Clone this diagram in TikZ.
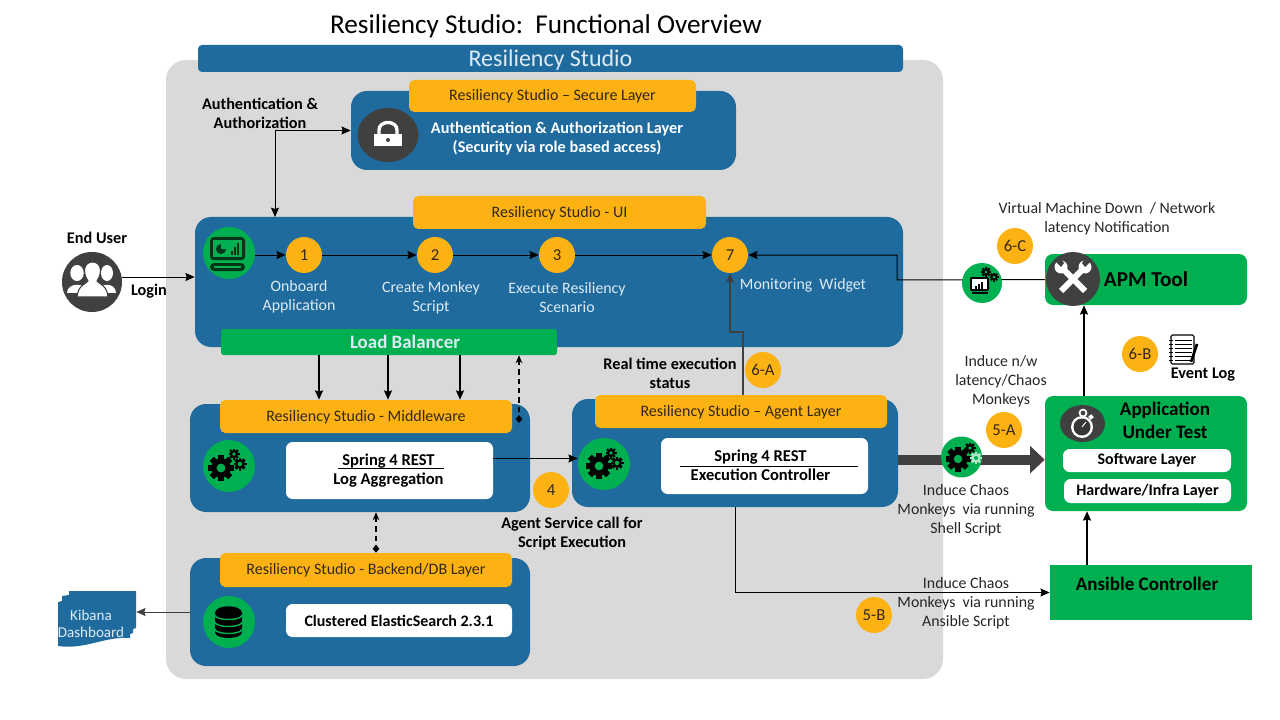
\documentclass[tikz,border=0pt]{standalone}
\usepackage{fontspec}
\setmainfont{Carlito}
\usetikzlibrary{arrows,arrows.meta,shapes.geometric}
\definecolor{panelgray}{HTML}{D9D9D9}
\definecolor{layerblue}{HTML}{1F6B9E}
\definecolor{tagorange}{HTML}{FDB213}
\definecolor{iconcircle}{HTML}{404040}
\definecolor{boxgreen}{HTML}{00AF50}
\definecolor{tagtext}{HTML}{33281A}
\definecolor{notetext}{HTML}{262626}
\definecolor{paletext}{HTML}{DDEAF3}
\tikzset{
  size/.style 2 args={minimum width=#1*0.75pt,minimum height=#2*0.75pt,inner sep=0pt},
  layer box/.style={fill=layerblue,rounded corners=12pt},
  tag box/.style={fill=tagorange,rounded corners=4pt,text=tagtext,text depth=1pt,font=\fontsize{12}{14}\selectfont},
  white box/.style={fill=white,rounded corners=5pt,align=center,font=\fontsize{12}{14.25}\selectfont\bfseries},
  green box/.style={fill=boxgreen,rounded corners=6pt},
  badge/.style={circle,fill=tagorange,minimum size=27pt,inner sep=0pt,text=tagtext,font=\fontsize{12.5}{14}\selectfont},
  icon disc/.style={circle,fill=boxgreen,minimum size=#1*0.75pt,inner sep=0pt},
  dark disc/.style={circle,fill=iconcircle,minimum size=#1*0.75pt,inner sep=0pt},
  note/.style={align=center,inner sep=0pt,text=notetext,font=\fontsize{11.9}{14.25}\selectfont},
  bold note/.style={align=center,inner sep=0pt,text=black,font=\fontsize{12.2}{14.25}\selectfont\bfseries},
  pale note/.style={align=center,inner sep=0pt,text=paletext,font=\fontsize{11.9}{14.25}\selectfont},
  flow/.style={-{Stealth[length=7pt,width=6pt,inset=1pt]},black,line width=0.75pt},
  heavy flow/.style={-{Stealth[length=7pt,width=6pt,inset=1pt]},black,line width=1.3pt},
  dash flow/.style={{Stealth[length=6pt,width=5pt]}-{Diamond[length=6pt,width=5pt]},black,line width=1.2pt,dash pattern=on 4pt off 3pt},
  big flow/.style={-{Triangle[length=11pt,width=20pt]},iconcircle,line width=7.5pt},
}
\newcommand{\cogicon}[5]{%
  \foreach \a in {0,45,90,135}
    \fill[#4,shift={(#1,#2)},rotate=\a] (-0.22*#3,-1.0*#3) rectangle (0.22*#3,1.0*#3);
  \fill[#4] (#1,#2) circle[radius=0.75*#3];
  \fill[#5] (#1,#2) circle[radius=0.34*#3];
}
\begin{document}
\begin{tikzpicture}[x=0.75pt,y=-0.75pt]
  \useasboundingbox (0,0) rectangle (1280,720);

  \node[font=\fontsize{20.4}{24}\selectfont] (title) at (546,26) {Resiliency Studio:\ \ Functional Overview};
  \node[fill=panelgray,rounded corners=15pt,size={777}{619}] (panel) at (554.5,369.5) {};
  \node[fill=layerblue,rounded corners=3pt,size={705}{27},text=paletext,text depth=0pt,font=\fontsize{18}{20}\selectfont] (header) at (550.5,58.5) {Resiliency Studio};

  \node[layer box,size={385}{79}] (secure) at (543.5,130.5) {};
  \node[tag box,size={287}{32}] (securetag) at (552.5,96) {Resiliency Studio – Secure Layer};
  \node[ellipse,fill=iconcircle,minimum width=45.75pt,minimum height=40.5pt,inner sep=0pt] (lock) at (388,135) {};
  \node[bold note,text=white] (securetext) at (557,138.5) {Authentication \& Authorization Layer\\(Security via role based access)};

  \node[layer box,size={708}{130}] (ui) at (549,282) {};
  \node[tag box,size={293}{33}] (uitag) at (559.5,212.5) {Resiliency Studio - UI};
  \node[icon disc=52] (uiicon) at (229,253) {};
  \node[badge] (1) at (304,255) {1};
  \node[badge] (2) at (435,255) {2};
  \node[badge] (3) at (557,255) {3};
  \node[badge] (7) at (730,255) {7};
  \node[pale note] (onboard) at (299,296.5) {Onboard\\Application};
  \node[pale note] (create) at (431,297.5) {Create Monkey\\Script};
  \node[pale note] (execute) at (567,297.5) {Execute Resiliency\\Scenario};
  \node[pale note] (widget) at (803,285.5) {Monitoring\ \ Widget};
  \node[fill=boxgreen,rounded corners=2pt,size={336}{26},text=paletext,font=\fontsize{14.2}{16}\selectfont\bfseries] (balancer) at (389,342) {\hspace*{24pt}Load Balancer};

  \node[layer box,size={340}{108}] (middle) at (360,458) {};
  \node[tag box,size={292}{33}] (middletag) at (366,416.5) {Resiliency Studio - Middleware};
  \node[icon disc=52] (middleicon) at (229,466) {};
  \node[white box,size={207}{57}] (middlewhite) at (389.5,470.5) {};
  \node[bold note,font=\fontsize{12.4}{14.25}\selectfont\bfseries] (middletext) at (388.5,471) {Spring 4 REST\\Log Aggregation};

  \node[layer box,size={326}{108}] (agent) at (735,453) {};
  \node[tag box,size={292}{33}] (agenttag) at (741,411.5) {Resiliency Studio – Agent Layer};
  \node[icon disc=52] (agenticon) at (604,464) {};
  \node[white box,size={207}{56}] (agentwhite) at (764.5,466) {};
  \node[bold note,font=\fontsize{12.4}{14.25}\selectfont\bfseries] (agenttext) at (760.5,465) {Spring 4 REST\\Execution Controller};

  \node[layer box,size={340}{108}] (backend) at (360,612) {};
  \node[tag box,size={292}{34}] (backendtag) at (366,570) {Resiliency Studio - Backend/DB Layer};
  \node[icon disc=52] (backendicon) at (229,622) {};
  \node[white box,size={226}{33}] (backendwhite) at (399,620.5) {Clustered ElasticSearch 2.3.1};

  \fill[layerblue] (69,591) -- (136,591) -- (136,628) -- (133,629) -- (133,633) -- (130,634) -- (130,638)
    .. controls (105,636) and (85,650) .. (58,646) -- (58,602) -- (62,601) -- (62,596) -- (69,595) -- cycle;
  \node[size={78}{57}] (kibana) at (97,619) {};
  \node[pale note,font=\fontsize{11.3}{13}\selectfont] (kibanatext) at (91,624) {Kibana\\Dashboard};

  \node[green box,size={202}{51}] (apm) at (1146,279.5) {};
  \node[dark disc=54] (wrench) at (1073,279) {};
  \node[font=\fontsize{15.9}{18}\selectfont\bfseries] (apmtext) at (1146,279) {APM Tool};

  \node[green box,size={202}{115}] (app) at (1146,453.5) {};
  \node[ellipse,fill=iconcircle,minimum width=33.75pt,minimum height=27.75pt,inner sep=0pt] (watch) at (1082.5,423.5) {};
  \node[bold note,font=\fontsize{14.3}{17.25}\selectfont\bfseries] (apptext) at (1165,420.5) {Application\\Under Test};
  \node[white box,size={168}{23}] (software) at (1147,460.5) {Software Layer};
  \node[white box,size={167}{24}] (hardware) at (1147.5,491) {Hardware/Infra Layer};

  \node[fill=boxgreen,size={202}{55}] (ansible) at (1151,592.5) {};
  \node[font=\fontsize{14.3}{15}\selectfont\bfseries] (ansibletext) at (1147,584) {Ansible Controller};

  \node[dark disc=60] (enduser) at (92,282) {};
  \node[bold note] (endusertext) at (97,238) {End User};
  \node[bold note] (logintext) at (149,291) {Login};
  \node[bold note] (authtext) at (260,113.5) {Authentication \&\\Authorization};
  \node[bold note] (statustext) at (670,373.5) {Real time execution\\status};
  \node[bold note] (calltext) at (572,533.5) {Agent Service call for\\Script Execution};
  \node[bold note] (logtext) at (1203,375) {Event Log};
  \node[note] (vmtext) at (1107,218.5) {Virtual Machine Down\ \ / Network\\latency Notification};
  \node[note] (nwtext) at (1001,381.5) {Induce n/w\\latency/Chaos\\Monkeys};
  \node[note] (shelltext) at (966,510.5) {Induce Chaos\\Monkeys\ \ via running\\Shell Script};
  \node[note] (ansibletext2) at (966,603.5) {Induce Chaos\\Monkeys\ \ via running\\Ansible Script};

  \node[badge] (6c) at (1015,246) {6-C};
  \node[badge] (6b) at (1140,354) {6-B};
  \node[badge] (6a) at (763,370) {6-A};
  \node[badge] (5a) at (1004,430) {5-A};
  \node[badge] (5b) at (874,615) {5-B};
  \node[badge] (4) at (551,490) {4};

  \coordinate (authdrop) at (275,217);
  \coordinate (statusbend) at (743,332);
  \coordinate (apmbend) at (897,280);
  \coordinate (middiamond) at (519,423);

  \draw[flow,{Stealth[length=7pt,width=6pt,inset=1pt]}-{Stealth[length=7pt,width=6pt,inset=1pt]}] (secure.west) -| (authdrop);
  \draw[flow] ([yshift=3.75pt]enduser.east) -- ([yshift=3.75pt]ui.west);
  \path[flow]
    (uiicon.east |- 1) edge (1)
    (1) edge (2)
    (2) edge (3)
    (3) edge (7);
  \draw[flow] (apm.west) -- (apmbend) |- (7);
  \draw[flow,iconcircle,line width=1pt] (agenttag.north -| statusbend) -- (statusbend) -| (7);
  \foreach \s in {-70,-1,71}
    \draw[heavy flow] ([xshift=\s*0.75pt]balancer.south) -- ([xshift=\s*0.75pt]balancer.south |- middletag.north);
  \draw[dash flow] (balancer.south -| middiamond) -- (middiamond);
  \draw[dash flow] ([xshift=12pt]middle.south) -- ([xshift=12pt]middle.south |- backendtag.north);
  \draw[flow,line width=1pt] ([yshift=9pt]middlewhite.east) -- ([yshift=9pt]middlewhite.east -| agenticon.west);
  \draw[flow] (agent.south) |- (ansible.west);
  \draw[flow,iconcircle] (backend.west) -- (backend.west -| kibana.east);
  \draw[heavy flow] ([xshift=-46.5pt]app.north) -- ([xshift=-46.5pt]app.north |- apm.south);
  \draw[heavy flow] ([xshift=-48pt]ansible.north) -- ([xshift=-48pt]ansible.north |- app.south);
  \draw[big flow] ([yshift=-5pt]agent.east) -- ([yshift=-5pt]agent.east -| app.west);

  \node[icon disc=41] (chaosicon) at (961.5,457) {};
  \node[icon disc=40] (vmicon) at (982,283) {};

  \draw[black,line width=0.7pt] (338,468) -- (444,468);
  \draw[black,line width=0.7pt] (680,466) -- (858,466);

  \foreach \x/\w in {77/9,107/8}{
    \fill[white] (\x,273) ellipse[x radius=\w*0.75,y radius=8];
    \fill[white] (\x-\w-1,293) .. controls (\x-\w-1,282) and (\x+\w+1,282) .. (\x+\w+1,293) -- cycle;
  }
  \fill[white,draw=iconcircle,line width=0.8pt] (77,297) .. controls (78,285) and (86,284) .. (88,281)
    .. controls (82,272) and (84,262) .. (92.5,262) .. controls (101,262) and (103,272) .. (97,281)
    .. controls (99,284) and (107,285) .. (108,297) -- cycle;

  \fill[white] (374,134) rectangle (402,146);
  \draw[white,line width=2.5pt] (379,135) -- (379,130) .. controls (379,120) and (397,120) .. (397,130) -- (397,135);
  \fill[iconcircle] (388,140) circle[radius=2];

  \draw[white,line width=4.5pt] (1061,291) -- (1085,267);
  \draw[white,line width=4.5pt] (1061,267) -- (1085,291);
  \fill[white] (1061,267) circle[radius=6.5];
  \fill[white] (1085,267) circle[radius=6.5];
  \fill[iconcircle] (1054,260) -- (1059,256) -- (1064,263) -- (1061,267) -- cycle;
  \fill[iconcircle] (1092,260) -- (1087,256) -- (1082,263) -- (1085,267) -- cycle;

  \draw[white,line width=1.3pt] (1083,413) circle[radius=3.5];
  \fill[white] (1082,427) circle[radius=11];
  \fill[iconcircle!85!black] (1082,427) circle[radius=8.5];
  \draw[white,line width=0.7pt] (1082,427) -- (1086,422);
  \fill[white,rotate around={40:(1091,417)}] (1089,415) rectangle (1093,419);

  \fill[black!70!boxgreen] (210,241) .. controls (210,238) and (212,237) .. (214,237) -- (241,237)
    .. controls (243,237) and (245,238) .. (245,241) -- (245,257) .. controls (245,259) and (243,260) .. (241,260)
    -- (214,260) .. controls (212,260) and (210,259) .. (210,257) -- cycle;
  \fill[boxgreen] (213,240) rectangle (242,257);
  \fill[black!70!boxgreen] (221,249) circle[radius=5];
  \fill[boxgreen] (221,249) -- (226,249) -- (226,244) -- (221,244) -- cycle;
  \foreach \x/\t in {231/251,234/247,237/243}
    \fill[black!70!boxgreen] (\x,\t) rectangle (\x+2,255);
  \fill[black!70!boxgreen,rounded corners=3pt] (210,263) rectangle (245,271);
  \fill[boxgreen] (214,266) rectangle (241,268);

  \cogicon{221}{468}{13}{black}{boxgreen}
  \cogicon{240}{464}{6.5}{black}{boxgreen}
  \cogicon{234}{454}{5.5}{black}{boxgreen}
  \cogicon{599}{466}{13}{black}{boxgreen}
  \cogicon{617}{463}{6.5}{black}{boxgreen}
  \cogicon{611}{453}{5.5}{black}{boxgreen}
  \cogicon{958}{459}{12.5}{black}{boxgreen}
  \cogicon{970}{448}{5.5}{black}{boxgreen}
  \cogicon{976}{458}{6}{white!70!boxgreen}{boxgreen}

  \fill[black] (215,613) -- (215,632) .. controls (215,640) and (242,640) .. (242,632) -- (242,613)
    .. controls (242,604) and (215,604) .. (215,613) -- cycle;
  \foreach \y in {615,622,629}
    \draw[boxgreen,line width=1.1pt] (215,\y) .. controls (215,\y+6) and (242,\y+6) .. (242,\y);

  \fill[black,rounded corners=1pt] (970,277) rectangle (989,291);
  \fill[white] (972,279) rectangle (987,289);
  \foreach \x/\t in {975/286,978/284,981/282}
    \fill[black] (\x,\t) rectangle (\x+2,289);
  \fill[black] (972,292) rectangle (988,294);
  \cogicon{986}{272}{5}{black}{boxgreen}
  \cogicon{994}{277}{4.5}{black}{boxgreen}

  \draw[black,fill=white,line width=0.8pt,rounded corners=1pt] (1171,335) rectangle (1194,364);
  \foreach \y in {340,344,...,360}{
    \draw[black,line width=0.5pt] (1175,\y) -- (1192,\y);
    \draw[black,line width=0.6pt] (1169,\y) -- (1173,\y);
  }
  \draw[black,line width=2pt] (1197,344) -- (1191,362);
\end{tikzpicture}
\end{document}
